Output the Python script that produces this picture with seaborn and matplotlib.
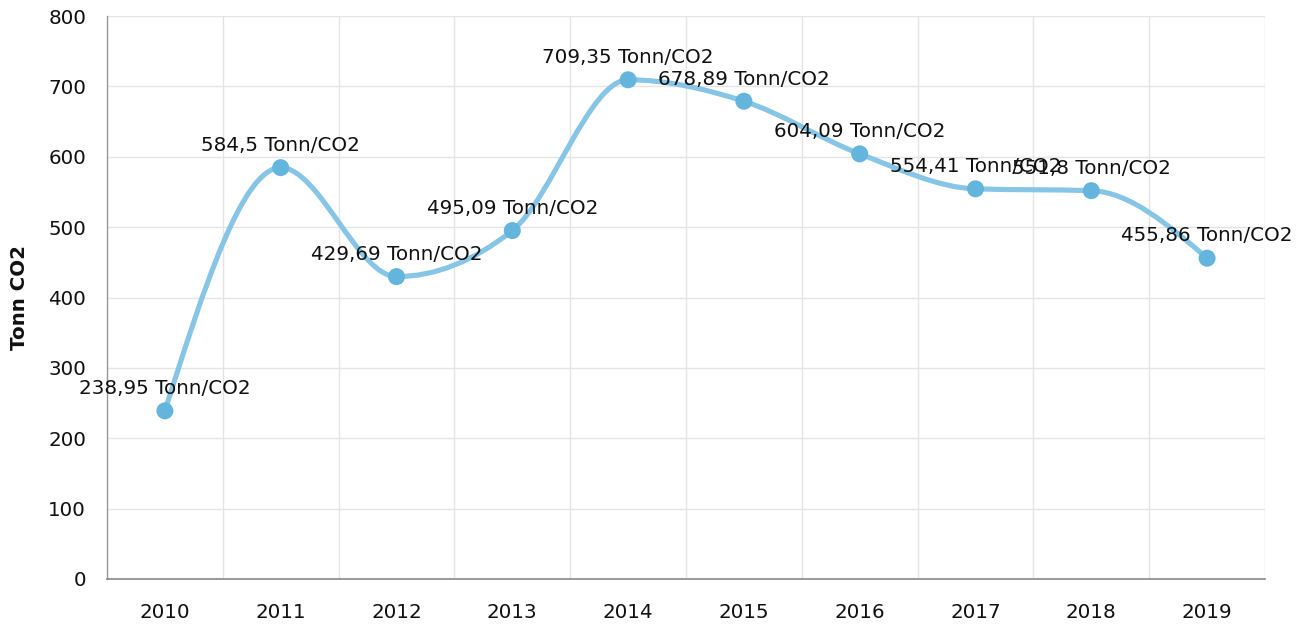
import numpy as np
import pandas as pd
import matplotlib
matplotlib.use("Agg")
import matplotlib.pyplot as plt
from matplotlib.path import Path
from matplotlib.patches import PathPatch
import seaborn as sns

years = ["2010", "2011", "2012", "2013", "2014", "2015", "2016", "2017", "2018", "2019"]
emissions = [238.95, 584.5, 429.69, 495.09, 709.35, 678.89, 604.09, 554.41, 551.8, 455.86]
unit = "Tonn/CO2"

line_color = "#86c5e6"
marker_color = "#64b5dd"

W, H = 1311, 627
L, R, T, B = 107, 1265, 16, 579
ymax = 800


def monotone_path(xs, ys):
    # monotone cubic (d3 curveMonotoneX style) drawn as bezier segments
    x = np.asarray(xs, float)
    y = np.asarray(ys, float)
    n = len(x)
    sec = np.diff(y) / np.diff(x)
    t = np.zeros(n)
    for i in range(1, n - 1):
        h0, h1 = x[i] - x[i - 1], x[i + 1] - x[i]
        s0, s1 = sec[i - 1], sec[i]
        p = (s0 * h1 + s1 * h0) / (h0 + h1)
        t[i] = (np.sign(s0) + np.sign(s1)) * min(abs(s0), abs(s1), 0.5 * abs(p))
    t[0] = (3 * sec[0] - t[1]) / 2
    t[-1] = (3 * sec[-1] - t[-2]) / 2
    verts = [(x[0], y[0])]
    codes = [Path.MOVETO]
    for i in range(n - 1):
        dx = (x[i + 1] - x[i]) / 3
        verts += [(x[i] + dx, y[i] + dx * t[i]),
                  (x[i + 1] - dx, y[i + 1] - dx * t[i + 1]),
                  (x[i + 1], y[i + 1])]
        codes += [Path.CURVE4] * 3
    return Path(verts, codes)


df = pd.DataFrame({"year": years, "co2": emissions})
df["pos"] = np.arange(len(df))

sns.set_theme(style="white")
plt.rcParams["font.family"] = ["DejaVu Sans"]

fig = plt.figure(figsize=(W / 100, H / 100), dpi=100)
ax = fig.add_axes([L / W, (H - B) / H, (R - L) / W, (B - T) / H])

ax.add_patch(PathPatch(monotone_path(df["pos"], df["co2"]), fill=False,
                       edgecolor=line_color, lw=3.7, capstyle="round", zorder=3))
sns.scatterplot(data=df, x="pos", y="co2", ax=ax, color=marker_color, s=150,
                edgecolor="none", zorder=4, legend=False)

for _, r in df.iterrows():
    ax.annotate(f"{r['co2']:g}".replace(".", ",") + " " + unit, (r["pos"], r["co2"]),
                xytext=(0, 16), textcoords="offset points", ha="center", va="center",
                fontsize=14.3, color="#111111", zorder=5)

ax.set_xlim(-0.5, len(years) - 0.5)
ax.set_ylim(0, ymax)
ax.set_xticks(df["pos"])
ax.set_xticklabels(years)
ax.set_yticks(np.arange(0, ymax + 1, 100))
ax.set_xticks(np.arange(-0.5, len(years)), minor=True)
ax.grid(False)
ax.grid(True, axis="y", which="major", color="#e4e4e4", lw=1)
ax.grid(True, axis="x", which="minor", color="#e4e4e4", lw=1)
ax.tick_params(axis="x", which="minor", length=0)
ax.tick_params(axis="both", which="major", labelsize=14.3, colors="#111111",
               length=7, width=1, direction="out")
ax.tick_params(axis="x", which="major", color="#999999", pad=10)
ax.tick_params(axis="y", which="major", color="#cccccc", pad=8)
ax.set_xlabel("")
ax.set_ylabel("Tonn CO2", fontsize=14.3, fontweight="bold", color="#111111", labelpad=14)

for s in ["top", "right"]:
    ax.spines[s].set_visible(False)
ax.spines["left"].set_color("#999999")
ax.spines["bottom"].set_color("#888888")
ax.spines["left"].set_linewidth(1)
ax.spines["bottom"].set_linewidth(1.2)

fig.savefig("out.png", dpi=100, facecolor="white")
